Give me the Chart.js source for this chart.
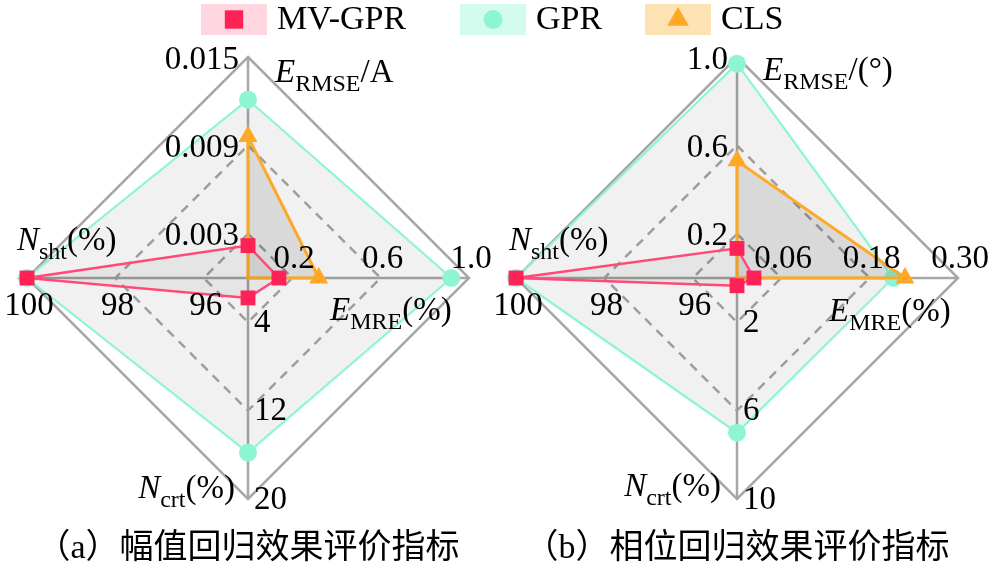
<!DOCTYPE html>
<html>
<head>
<meta charset="utf-8">
<script src="https://cdn.jsdelivr.net/npm/chart.js@4.4.1/dist/chart.umd.min.js"></script>
<style>
  html, body { margin: 0; padding: 0; background: #fff; }
  #wrap { position: relative; width: 992px; height: 566px; }
  #wrap canvas { position: absolute; left: 0; top: 0; }
  .fontwarm { position: absolute; left: -9999px; top: 0; font-size: 20px; }
</style>
</head>
<body>
<div id="wrap">
  <canvas id="chartA" width="992" height="566"></canvas>
  <canvas id="chartB" width="992" height="566"></canvas>
</div>
<span class="fontwarm" style="font-family: 'Liberation Serif'">0.015 E</span>
<span class="fontwarm" style="font-family: 'Liberation Serif'; font-style: italic">E N</span>
<span class="fontwarm" style="font-family: 'Noto Sans CJK SC'">幅值回归效果评价指标（a）</span>
<script>
// Series
const seriesNames = ["MV-GPR", "GPR", "CLS"]

// (a) amplitude: axes E_RMSE/A, E_MRE(%), N_crt(%), N_sht(%)
const axisRangesA = [[0, 0.015], [0, 1.0], [0, 20], [95, 100]]
const tickLabelsA = [["0.003", "0.009", "0.015"], ["0.2", "0.6", "1.0"], ["4", "12", "20"], ["96", "98", "100"]]
const mvgprA = [0.0022, 0.14, 1.8, 100]
const gprA = [0.0121, 0.92, 15.8, 100]
const clsA = [0.0096, 0.32, null, null]

// (b) phase: axes E_RMSE/(°), E_MRE(%), N_crt(%), N_sht(%)
const axisRangesB = [[0, 1.0], [0, 0.30], [0, 10], [95, 100]]
const tickLabelsB = [["0.2", "0.6", "1.0"], ["0.06", "0.18", "0.30"], ["2", "6", "10"], ["96", "98", "100"]]
const mvgprB = [0.134, 0.023, 0.35, 100]
const gprB = [0.97, 0.212, 7.0, 100]
const clsB = [0.53, 0.228, null, null]

// axis names: [main letter, subscript, rest]
const axisNamesA = [["E", "RMSE", "/A"], ["E", "MRE", "(%)"], ["N", "crt", "(%)"], ["N", "sht", "(%)"]]
const axisNamesB = [["E", "RMSE", "/(°)"], ["E", "MRE", "(%)"], ["N", "crt", "(%)"], ["N", "sht", "(%)"]]
const captionA = ["（a）", "幅值回归效果评价指标"]
const captionB = ["（b）", "相位回归效果评价指标"]

// grid rings as fraction of radius
const gridLevels = [0, 0.2, 0.6, 1]

// Styles
const seriesStyles = [
  { line: "#ff4a78", point: "#ff2257", legendBg: "#ffd5e0", shape: "rect", radius: 10.5, legendRadius: 13, width: 2.5, fill: "rgba(0,0,0,0.05)", order: 0 },
  { line: "#8ef5d4", point: "#8ef5d4", legendBg: "#d3fbee", shape: "circle", radius: 9, legendRadius: 9.5, width: 2.2, fill: "rgba(0,0,0,0.055)", order: 2 },
  { line: "#ffa826", point: "#ffa826", legendBg: "#fde2b3", shape: "triangle", radius: 11, legendRadius: 12.5, width: 3, fill: "rgba(0,0,0,0.1)", order: 1 },
]
const legendX = [201, 460, 645]
const serif = "'Liberation Serif', 'DejaVu Serif', serif"
const cjk = "'Liberation Serif', 'Noto Sans CJK SC', sans-serif"
const gridColor = "#a7a7a7"

function toFrac(v, range) {
  if (v === null) return 0
  return (v - range[0]) / (range[1] - range[0])
}

function buildDatasets(seriesList, ranges) {
  return seriesList.map((src, i) => {
    const st = seriesStyles[i]
    return {
      label: seriesNames[i],
      data: src.map((v, k) => toFrac(v, ranges[k])),
      borderColor: st.line,
      borderWidth: st.width,
      backgroundColor: st.fill,
      fill: true,
      tension: 0,
      pointStyle: st.shape,
      pointRadius: src.map((v) => (v === null ? 0 : st.radius)),
      pointBackgroundColor: st.point,
      pointBorderColor: st.point,
      pointBorderWidth: 0,
      order: st.order,
      clip: false,
    }
  })
}

// draw "E_RMSE/A" style label: italic letter, subscript, plain rest
function drawAxisName(ctx, parts, x, y, align) {
  const fItalic = "italic 33px " + serif
  const fSub = "24px " + serif
  const fMain = "33px " + serif
  ctx.font = fItalic
  const w0 = ctx.measureText(parts[0]).width
  ctx.font = fSub
  const w1 = ctx.measureText(parts[1]).width
  ctx.font = fMain
  const w2 = ctx.measureText(parts[2]).width
  let sx = align === "right" ? x - (w0 + w1 + w2) : x
  ctx.textAlign = "left"
  ctx.textBaseline = "alphabetic"
  ctx.font = fItalic
  ctx.fillText(parts[0], sx, y)
  ctx.font = fSub
  ctx.fillText(parts[1], sx + w0, y + 9)
  ctx.font = fMain
  ctx.fillText(parts[2], sx + w0 + w1, y)
}

// per-chart text decorations
function makeTextPlugin(cfg) {
  return {
    id: "radarText",
    afterDraw(chart) {
      const ctx = chart.ctx
      const r = chart.scales.r
      const cx = r.xCenter
      const cy = r.yCenter
      ctx.save()
      ctx.fillStyle = "#000"

      // tick labels, one scale per axis
      ctx.font = "33px " + serif
      cfg.ticks.forEach((labels, axis) => {
        labels.forEach((lab) => {
          const d = r.getDistanceFromCenterForValue(toFrac(parseFloat(lab), cfg.ranges[axis]))
          const p = r.getPointPosition(axis, d)
          if (axis === 0) {
            ctx.textAlign = "right"
            ctx.textBaseline = "middle"
            ctx.fillText(lab, cx - 9, p.y + 3)
          } else if (axis === 1) {
            ctx.textAlign = "center"
            ctx.textBaseline = "alphabetic"
            ctx.fillText(lab, p.x + 2, cy - 10)
          } else if (axis === 2) {
            ctx.textAlign = "left"
            ctx.textBaseline = "middle"
            ctx.fillText(lab, cx + 6, p.y + 1)
          } else {
            ctx.textAlign = "center"
            ctx.textBaseline = "middle"
            ctx.fillText(lab, p.x + 2, cy + 28)
          }
        })
      })

      // axis names
      cfg.names.forEach((parts, axis) => {
        const o = cfg.nameOffsets[axis]
        drawAxisName(ctx, parts, cx + o[0], cy + o[1], o[2])
      })

      // caption
      ctx.textBaseline = "middle"
      ctx.textAlign = "left"
      ctx.font = "34px " + cjk
      const wp = ctx.measureText(cfg.caption[0]).width
      const wm = ctx.measureText(cfg.caption[1]).width
      const sx = cx - (wp + wm) / 2
      ctx.fillText(cfg.caption[0], sx, 549)
      ctx.fillText(cfg.caption[1], sx + wp, 549)

      // legend (drawn once, on the first chart)
      if (cfg.legend) {
        seriesNames.forEach((name, i) => {
          const st = seriesStyles[i]
          const x = legendX[i]
          ctx.fillStyle = st.legendBg
          ctx.fillRect(x, 4, 66, 31)
          ctx.fillStyle = st.point
          Chart.helpers.drawPoint(ctx, { pointStyle: st.shape, radius: st.legendRadius, rotation: 0, borderWidth: 0 }, x + 33, 19.5)
          ctx.fillStyle = "#000"
          ctx.font = "34px " + serif
          ctx.textAlign = "left"
          ctx.textBaseline = "middle"
          ctx.fillText(name, x + 76, 20)
        })
      }
      ctx.restore()
    },
  }
}

function makeChart(id, seriesList, ranges, names, padding, plugin) {
  return new Chart(document.getElementById(id), {
    type: "radar",
    data: {
      labels: names.map((n) => n[0] + "_" + n[1] + n[2]),
      datasets: buildDatasets(seriesList, ranges),
    },
    options: {
      responsive: false,
      animation: false,
      events: [],
      layout: { padding: padding },
      plugins: { legend: { display: false }, tooltip: { enabled: false } },
      scales: {
        r: {
          min: 0,
          max: 1,
          afterBuildTicks: (scale) => {
            scale.ticks = gridLevels.map((v) => ({ value: v }))
          },
          ticks: { display: false },
          pointLabels: { display: false },
          angleLines: { color: gridColor, lineWidth: 2.5 },
          grid: { color: gridColor, lineWidth: 2.5 },
          border: { dash: (c) => (c.tick && c.tick.value < 1 ? [9, 7] : []) },
        },
      },
    },
    plugins: [plugin],
  })
}

function drawAll() {
  makeChart(
    "chartA",
    [mvgprA, gprA, clsA],
    axisRangesA,
    axisNamesA,
    { left: 27, right: 523, top: 57, bottom: 67 },
    makeTextPlugin({
      ranges: axisRangesA,
      ticks: tickLabelsA,
      names: axisNamesA,
      nameOffsets: [[27, -196, "left"], [82, 42, "left"], [-13, 220, "right"], [-231, -28, "left"]],
      caption: captionA,
      legend: true,
    })
  )

  makeChart(
    "chartB",
    [mvgprB, gprB, clsB],
    axisRangesB,
    axisNamesB,
    { left: 516, right: 34, top: 57, bottom: 67 },
    makeTextPlugin({
      ranges: axisRangesB,
      ticks: tickLabelsB,
      names: axisNamesB,
      nameOffsets: [[26, -198, "left"], [92, 43, "left"], [-16, 218, "right"], [-228, -28, "left"]],
      caption: captionB,
      legend: false,
    })
  )
}

// wait for the installed fonts before painting the canvases
Promise.all([
  document.fonts.load("33px 'Liberation Serif'"),
  document.fonts.load("italic 33px 'Liberation Serif'"),
  document.fonts.load("34px 'Noto Sans CJK SC'", "幅值"),
]).then(drawAll, drawAll)
</script>
</body>
</html>
